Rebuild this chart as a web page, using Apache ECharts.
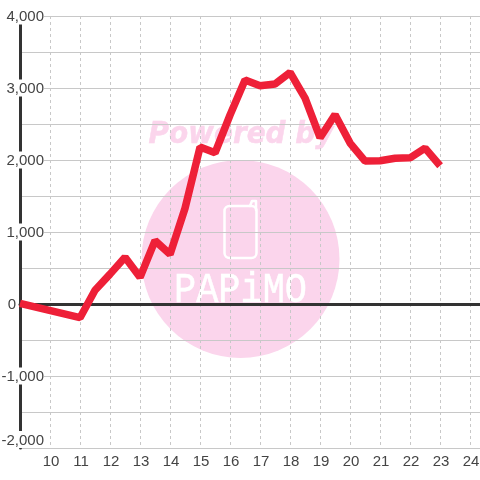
<!DOCTYPE html>
<html>
<head>
<meta charset="utf-8">
<style>
html, body { margin: 0; padding: 0; background: #fff; }
#main { width: 480px; height: 480px; }
</style>
<script src="https://cdn.jsdelivr.net/npm/echarts@6/dist/echarts.min.js"></script>
</head>
<body>
<div id="main"></div>
<script>
// hour of day against value
var hours = [9, 11, 11.5, 12, 12.5, 13, 13.5, 14, 14.5, 15, 15.5, 16, 16.5, 17, 17.5, 18, 18.5, 19, 19.5, 20, 20.5, 21, 21.5, 22, 22.5, 23];
var values = [10, -190, 190, 415, 650, 370, 880, 690, 1330, 2180, 2100, 2625, 3110, 3030, 3055, 3215, 2860, 2310, 2630, 2235, 1985, 1990, 2025, 2030, 2165, 1920];
var xTicks = [10, 11, 12, 13, 14, 15, 16, 17, 18, 19, 20, 21, 22, 23, 24];
var yLabels = [-2000, -1000, 0, 1000, 2000, 3000, 4000];

var labelFont = 'Liberation Sans';
var labelColor = '#444444';
var chart = echarts.init(document.getElementById('main'));

chart.setOption({
    animation: false,
    backgroundColor: '#ffffff',
    grid: { left: 20, right: 0, top: 16, bottom: 32, outerBoundsMode: 'none' },
    xAxis: [
        {
            type: 'value',
            min: 9,
            max: 24.33,
            interval: 1,
            axisLine: { onZero: false, show: false },
            axisTick: { show: false, customValues: xTicks },
            axisLabel: {
                customValues: xTicks,
                margin: 6,
                padding: [0, 0, 0, 2],
                fontSize: 15,
                fontFamily: labelFont,
                color: labelColor
            },
            splitLine: {
                show: true,
                lineStyle: { color: '#c8c8c8', width: 1, type: [3, 3] }
            }
        },
        {
            // only the heavy zero line
            type: 'value',
            min: 9,
            max: 24.33,
            position: 'bottom',
            axisLine: { show: true, onZero: true, lineStyle: { color: '#333333', width: 3 } },
            axisTick: { show: false },
            axisLabel: { show: false },
            splitLine: { show: false }
        }
    ],
    yAxis: {
        type: 'value',
        min: -2000,
        max: 4000,
        interval: 500,
        axisLine: { show: true, onZero: false, lineStyle: { color: '#333333', width: 3 } },
        axisTick: { show: false },
        axisLabel: {
            customValues: yLabels,
            margin: -24,
            align: 'right',
            verticalAlignMinLabel: 'bottom',
            // white box hides the axis line and grid line behind the label, the 0 sits left of the axis
            formatter: function (v) {
                if (Number(v) === 0) return '{z|0}';
                return '{a|' + Number(v).toLocaleString('en-US') + '}';
            },
            rich: {
                a: { fontSize: 15, fontFamily: labelFont, color: labelColor, backgroundColor: '#ffffff', padding: [2, 0, 0, 0] },
                z: { fontSize: 15, fontFamily: labelFont, color: labelColor, padding: [2, 28, 0, 0] }
            }
        },
        splitLine: {
            show: true,
            lineStyle: { color: '#c8c8c8', width: 1 }
        }
    },
    graphic: {
        elements: [
            // watermark sits under the grid lines
            {
                type: 'circle', z: -10, silent: true,
                shape: { cx: 240.5, cy: 259, r: 99 },
                style: { fill: '#fbd5ec' }
            },
            {
                type: 'text', z: -9, silent: true, x: 241, y: 135, scaleX: 0.93, originX: 0, originY: 0,
                style: {
                    text: 'Powered by', fill: '#fbd5ec', align: 'center', verticalAlign: 'middle',
                    font: 'italic bold 30px "DejaVu Sans"', stroke: '#fbd5ec', lineWidth: 0.5
                }
            },
            {
                type: 'rect', z: -9, silent: true,
                shape: { x: 224.5, y: 206, width: 32, height: 52, r: 5 },
                style: { fill: 'none', stroke: '#ffffff', lineWidth: 2.5 }
            },
            {
                type: 'polyline', z: -9, silent: true,
                shape: { points: [[250, 206], [252, 201], [256, 201], [256, 210]] },
                style: { fill: 'none', stroke: '#ffffff', lineWidth: 2.5, lineCap: 'round', lineJoin: 'round' }
            },
            {
                type: 'text', z: -9, silent: true, x: 240.5, y: 291, scaleX: 0.88, originX: 0, originY: 0,
                style: {
                    text: 'PAPiMO', fill: '#ffffff', align: 'center', verticalAlign: 'middle',
                    font: '42px "Liberation Mono"', stroke: '#ffffff', lineWidth: 0.5
                }
            }
        ]
    },
    series: [
        {
            type: 'line',
            xAxisIndex: 0,
            showSymbol: false,
            symbol: 'none',
            clip: true,
            lineStyle: { color: '#ee2038', width: 7.5, join: 'bevel' },
            data: hours.map(function (h, i) { return [h, values[i]]; })
        }
    ]
});

window.onresize = function () {
    chart.resize();
};
</script>
</body>
</html>
